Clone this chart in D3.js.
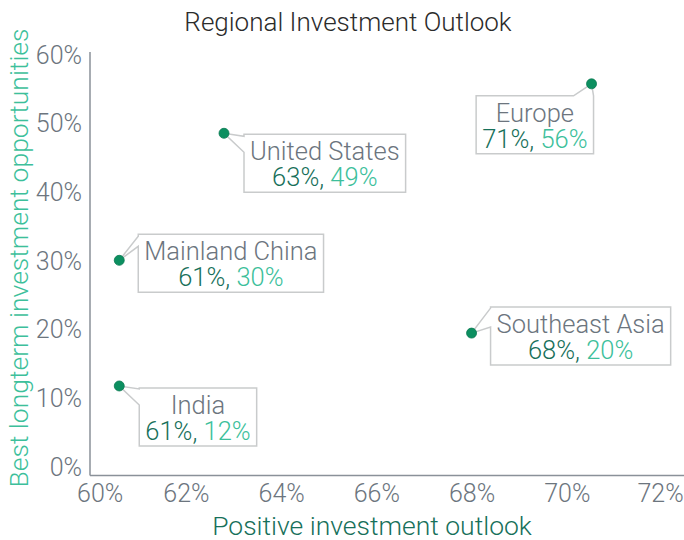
<!DOCTYPE html>
<html>
<head>
<meta charset="utf-8">
<script src="https://cdn.jsdelivr.net/npm/d3@7"></script>
<style>
  body { margin: 0; background: #fff; }
  text { font-family: Roboto, "Open Sans", sans-serif; font-weight: 300; }
</style>
</head>
<body>
<div id="chart"></div>
<script>
const regions = ["United States", "Europe", "Mainland China", "India", "Southeast Asia"];
const outlook = [62.8, 70.52, 60.6, 60.6, 68.0];
const opportunities = [48.6, 55.8, 30.1, 11.8, 19.5];
const xTicks = [60, 62, 64, 66, 68, 70, 72];
const yTicks = [0, 10, 20, 30, 40, 50, 60];

// where each callout box sits relative to its point
const callouts = [
  { side: "left", dx: 20, dy: 1, b1: 2, b2: 18 },
  { side: "top", dx: 2, dy: 12, b1: 20 },
  { side: "left", dx: 19, dy: -26, b1: 2, b2: 12 },
  { side: "left", dx: 20, dy: 2, b1: 1, b2: 17 },
  { side: "left", dx: 19, dy: -26, b1: 1, b2: 20 }
];

const width = 684, height = 540;
const grey = "#6c757e", darkGreen = "#17705a", teal = "#3dbf9b";

const svg = d3.select("#chart").append("svg")
  .attr("width", width)
  .attr("height", height);

const x = d3.scaleLinear().domain([60, 72]).range([90.7, 662]);
const y = d3.scaleLinear().domain([0, 60]).range([467, 55]);

// title
svg.append("text")
  .attr("x", 348).attr("y", 31)
  .attr("text-anchor", "middle")
  .attr("font-size", 26)
  .attr("fill", "#2b2b2b")
  .text("Regional Investment Outlook");

// axis lines
svg.append("line")
  .attr("x1", 90).attr("x2", 90).attr("y1", 52).attr("y2", 475.5)
  .attr("stroke", "#8a9199").attr("stroke-width", 1.5);
svg.append("line")
  .attr("x1", 90).attr("x2", width).attr("y1", 475.5).attr("y2", 475.5)
  .attr("stroke", "#8a9199").attr("stroke-width", 1.5);

const yAxis = svg.append("g")
  .attr("transform", "translate(82,0)")
  .call(d3.axisLeft(y).tickValues(yTicks).tickSize(0).tickPadding(0).tickFormat(d => d + "%"));
yAxis.select(".domain").remove();
yAxis.selectAll("text")
  .attr("font-size", 25)
  .attr("fill", grey)
  .attr("font-family", "Roboto, sans-serif");

const xAxis = svg.append("g")
  .attr("transform", "translate(0,484)")
  .call(d3.axisBottom(x).tickValues(xTicks).tickSize(0).tickPadding(0).tickFormat(d => d + "%"));
xAxis.select(".domain").remove();
xAxis.selectAll("text")
  .attr("font-size", 25)
  .attr("fill", grey)
  .attr("font-family", "Roboto, sans-serif")
  .attr("dx", (d, i) => i === 0 ? 9 : (i === xTicks.length - 1 ? -2 : 0));

// axis titles
svg.append("text")
  .attr("transform", "translate(28,258) rotate(-90)")
  .attr("text-anchor", "middle")
  .attr("font-size", 26.5)
  .attr("fill", teal)
  .text("Best longterm investment opportunities");

svg.append("text")
  .attr("x", 372).attr("y", 535)
  .attr("text-anchor", "middle")
  .attr("font-size", 26.5)
  .attr("fill", darkGreen)
  .text("Positive investment outlook");

// callouts
const fmt = v => Math.round(v) + "%";
const pts = regions.map((r, i) => ({ name: r, xv: outlook[i], yv: opportunities[i], c: callouts[i] }));

const g = svg.append("g").selectAll("g")
  .data(pts)
  .enter()
  .append("g");

g.each(function (d) {
  const el = d3.select(this);
  const px = x(d.xv), py = y(d.yv);
  const path = el.append("path");

  const t1 = el.append("text")
    .attr("text-anchor", "middle")
    .attr("font-size", 25.5)
    .attr("fill", grey)
    .text(d.name);
  const t2 = el.append("text")
    .attr("text-anchor", "middle")
    .attr("font-size", 25.5);
  t2.append("tspan").attr("fill", darkGreen).text(fmt(d.xv) + ",");
  t2.append("tspan").attr("fill", teal).text(" " + fmt(d.yv));

  const w = Math.max(t1.node().getComputedTextLength(), t2.node().getComputedTextLength()) + 12;
  const h = 58;
  let left, top;
  if (d.c.side === "top") {
    left = px + d.c.dx - w;
    top = py + d.c.dy;
  } else {
    left = px + d.c.dx;
    top = py + d.c.dy;
  }
  const right = left + w, bottom = top + h;

  let p;
  if (d.c.side === "top") {
    p = `M${left},${top}L${right - d.c.b1},${top}L${px},${py}L${right},${top}L${right},${bottom}L${left},${bottom}Z`;
  } else {
    p = `M${left},${top + d.c.b1}L${left},${top}L${right},${top}L${right},${bottom}L${left},${bottom}L${left},${top + d.c.b2}L${px},${py}Z`;
  }
  path.attr("d", p)
    .attr("fill", "#fff")
    .attr("stroke", "#c9cbcc")
    .attr("stroke-width", 1.5)
    .attr("stroke-linejoin", "miter");

  const cx = (left + right) / 2;
  t1.attr("x", cx).attr("y", top + 26);
  t2.attr("x", cx).attr("y", top + 52);

  el.append("circle")
    .attr("cx", px).attr("cy", py).attr("r", 5)
    .attr("fill", "#0c8f60")
    .attr("stroke", "#0a7a52").attr("stroke-width", 0.8);
});
</script>
</body>
</html>
